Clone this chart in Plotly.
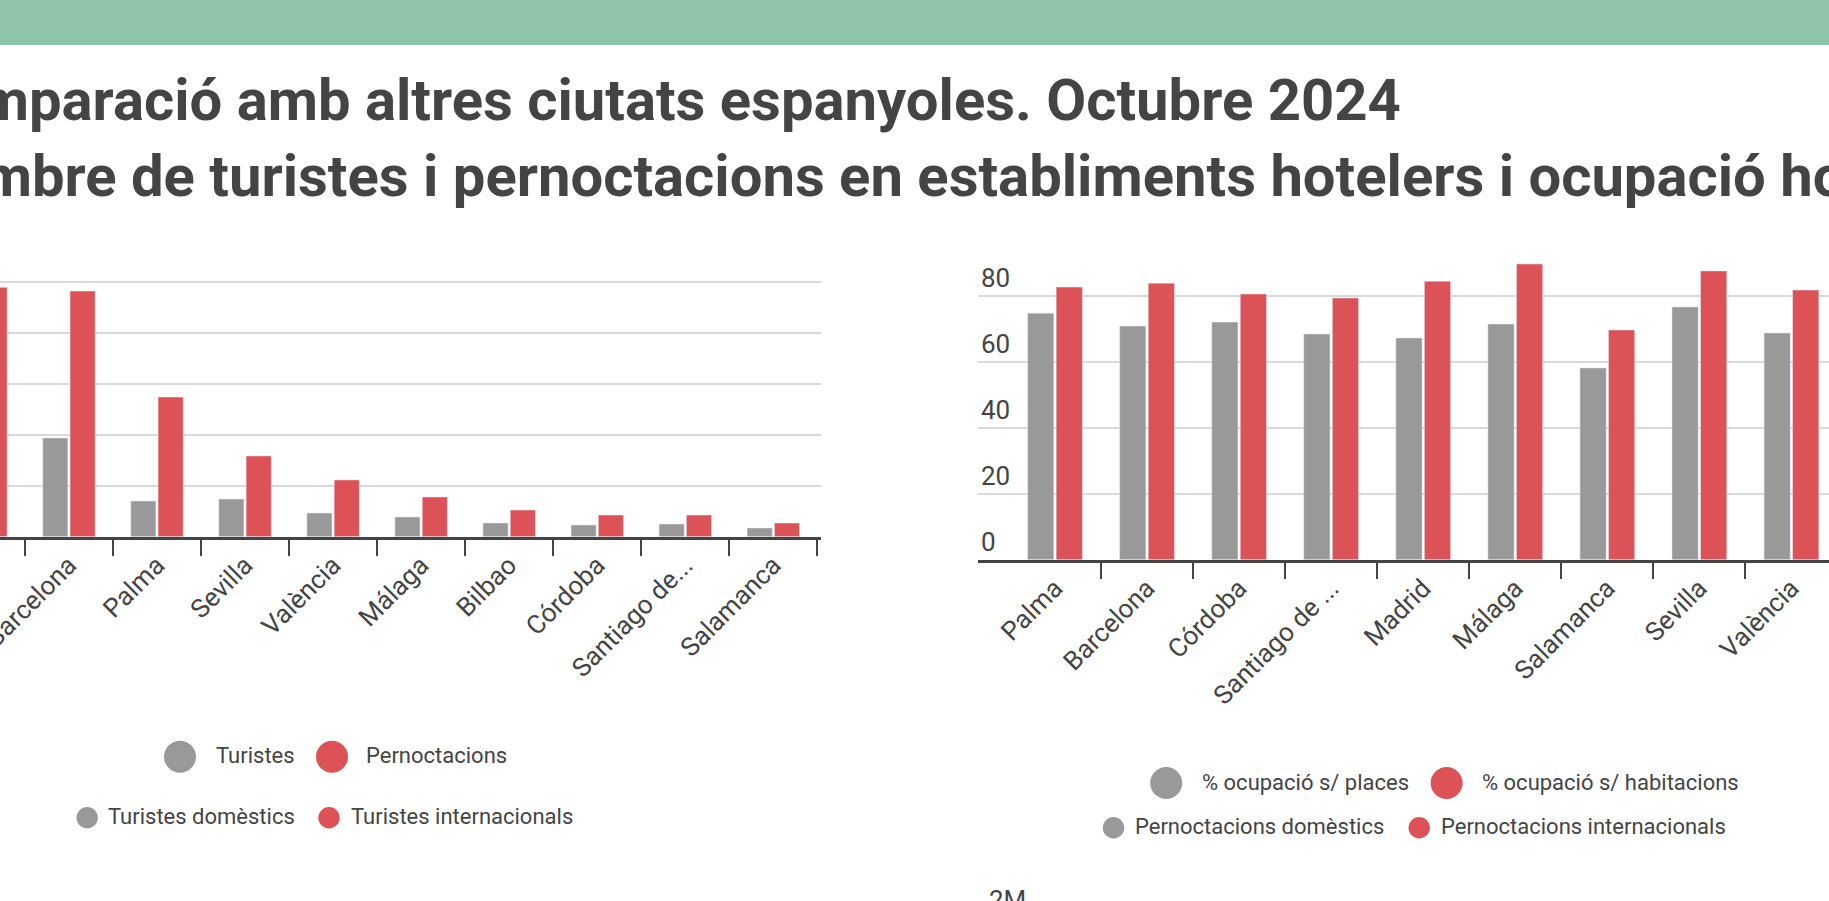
import plotly.graph_objects as go

W, H = 1829, 901

# ── data ──────────────────────────────────────────────────────────────────────

TITLE_1 = "Comparació amb altres ciutats espanyoles. Octubre 2024"
TITLE_2 = "Nombre de turistes i pernoctacions en establiments hotelers i ocupació hotelera"

tur_cities = ["Madrid", "Barcelona", "Palma", "Sevilla", "València", "Málaga",
              "Bilbao", "Córdoba", "Santiago de...", "Salamanca"]
turistes = [1150000, 967000, 350000, 369000, 232000, 193000,
            134000, 114000, 124000, 85000]
pernoctacions = [2444000, 2408000, 1369000, 791000, 556000, 389000,
                 261000, 212000, 212000, 134000]
tur_ticks = [0, 500000, 1000000, 1500000, 2000000, 2500000]

ocu_cities = ["Palma", "Barcelona", "Córdoba", "Santiago de ...", "Madrid",
              "Málaga", "Salamanca", "Sevilla", "València"]
ocup_places = [74.7, 70.8, 72.0, 68.4, 67.2, 71.4, 58.1, 76.6, 68.7]
ocup_habitacions = [82.6, 83.8, 80.5, 79.3, 84.4, 89.6, 69.6, 87.5, 81.7]
ocu_ticks = [0, 20, 40, 60, 80]

legend_tur_main = ["Turistes", "Pernoctacions"]
legend_tur_sub = ["Turistes domèstics", "Turistes internacionals"]
legend_ocu_main = ["% ocupació s/ places", "% ocupació s/ habitacions"]
legend_ocu_sub = ["Pernoctacions domèstics", "Pernoctacions internacionals"]
next_chart_label = "2M"

GREY = "#999999"
RED = "#dc5257"
TEXT = "#444444"
GRID = "#d9d9d9"
FONT = "Roboto"


def fx(px):
    return px / W


def fy(px):
    return 1 - px / H


# ── traces ────────────────────────────────────────────────────────────────────

fig = go.Figure()
fig.add_trace(go.Bar(x=tur_cities, y=turistes, marker_color=GREY,
                     xaxis="x", yaxis="y", showlegend=False))
fig.add_trace(go.Bar(x=tur_cities, y=pernoctacions, marker_color=RED,
                     xaxis="x", yaxis="y", showlegend=False))
fig.add_trace(go.Bar(x=ocu_cities, y=ocup_places, marker_color=GREY,
                     xaxis="x2", yaxis="y2", showlegend=False))
fig.add_trace(go.Bar(x=ocu_cities, y=ocup_habitacions, marker_color=RED,
                     xaxis="x2", yaxis="y2", showlegend=False))

xcommon = dict(
    type="category", tickson="boundaries", ticks="outside", ticklen=16,
    tickwidth=2, tickcolor=TEXT, showline=True, linewidth=3, linecolor=TEXT,
    tickangle=-45, tickfont=dict(family=FONT, size=26, color=TEXT),
    showgrid=False, zeroline=False, fixedrange=True, automargin=False,
)
ycommon = dict(
    gridcolor=GRID, gridwidth=2, zeroline=False, showline=False, ticks="",
    fixedrange=True, automargin=False,
)

# ── custom legends (big / small circles + labels) ─────────────────────────────

shapes = [dict(type="rect", xref="paper", yref="paper", x0=0, x1=1,
               y0=fy(45), y1=1, fillcolor="#8fc4aa", line_width=0, layer="below")]
annotations = [
    dict(text=TITLE_1, x=fx(-94), y=fy(64), xanchor="left", yanchor="top"),
    dict(text=TITLE_2, x=fx(-94), y=fy(140), xanchor="left", yanchor="top"),
]
for a in annotations:
    a.update(xref="paper", yref="paper", showarrow=False,
             font=dict(family=FONT, size=58, color=TEXT, weight="bold"))

legend_rows = [
    (legend_tur_main, 756.8, 16, [(180, 214), (332, 364)]),
    (legend_tur_sub, 817.8, 10.7, [(87.2, 106), (329, 349)]),
    (legend_ocu_main, 783, 16, [(1166.2, 1200), (1446.6, 1480)]),
    (legend_ocu_sub, 827.7, 10.7, [(1113.5, 1133), (1419.2, 1439)]),
]
for labels, cy, r, spots in legend_rows:
    for label, color, (cx, tx) in zip(labels, [GREY, RED], spots):
        shapes.append(dict(type="circle", xref="paper", yref="paper",
                           x0=fx(cx - r), x1=fx(cx + r), y0=fy(cy + r), y1=fy(cy - r),
                           fillcolor=color, line_width=0))
        annotations.append(dict(text=label, xref="paper", yref="paper",
                                x=fx(tx), y=fy(cy - 1), xanchor="left", yanchor="middle",
                                showarrow=False,
                                font=dict(family=FONT, size=22, color=TEXT)))

annotations.append(dict(text=next_chart_label, xref="paper", yref="paper",
                        x=fx(987), y=fy(883), xanchor="left", yanchor="top",
                        showarrow=False, font=dict(family=FONT, size=26, color=TEXT)))

fig.update_layout(
    width=W, height=H,
    margin=dict(l=0, r=0, t=0, b=0, autoexpand=False),
    paper_bgcolor="white", plot_bgcolor="white",
    barmode="group", bargap=0.38, bargroupgap=0.08,
    xaxis=dict(xcommon, domain=[0, fx(821)], range=[0.2172, 9.5414], anchor="y"),
    yaxis=dict(ycommon, domain=[fy(536.67), fy(279.6)], range=[0, 2520000],
               tickvals=tur_ticks, showticklabels=False, anchor="x"),
    xaxis2=dict(xcommon, domain=[fx(978), 1], range=[-0.8365, 8.408], anchor="y2"),
    yaxis2=dict(ycommon, domain=[fy(559.67), fy(256.07)], range=[0, 92],
                tickvals=ocu_ticks, ticklabelposition="inside top",
                tickfont=dict(family=FONT, size=26, color=TEXT), anchor="x2"),
    shapes=shapes,
    annotations=annotations,
)

fig.write_html("out.html", config={"displayModeBar": False},
               post_script="document.body.style.margin='0';")
